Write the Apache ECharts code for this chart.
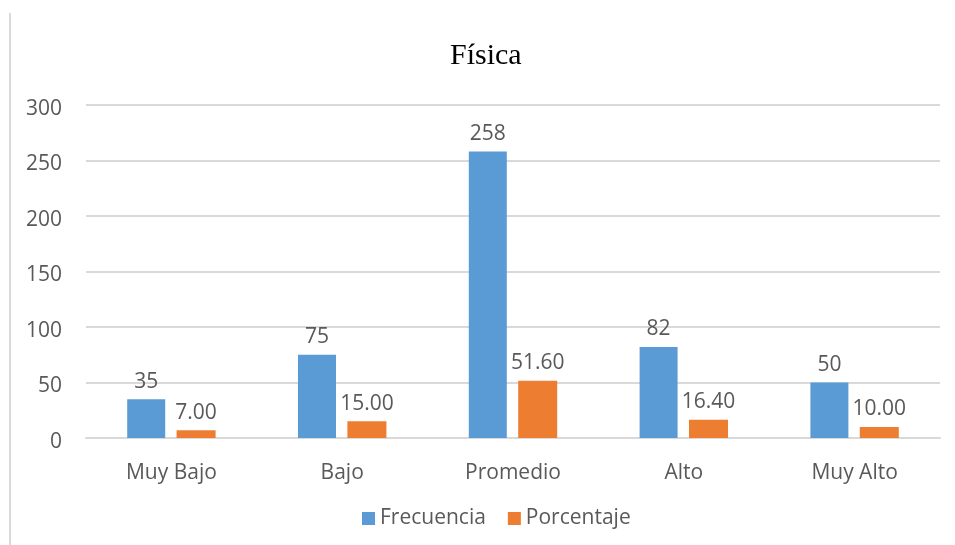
<!DOCTYPE html>
<html>
<head>
    <meta charset="utf-8">
    <title>Física</title>
    <script src="https://cdn.jsdelivr.net/npm/echarts@6/dist/echarts.min.js"></script>
    <style>
        html, body { margin: 0; padding: 0; background: #fff; }
        #chart { width: 955px; height: 545px; }
    </style>
</head>
<body>
    <div id="chart"></div>

    <script>
    const categories = ['Muy Bajo', 'Bajo', 'Promedio', 'Alto', 'Muy Alto'];
    const frecuencia = [35, 75, 258, 82, 50];
    const porcentaje = [7.00, 15.00, 51.60, 16.40, 10.00];
    const yTicks = { min: 0, max: 300, interval: 50 };

    const textColor = '#595959';
    const font = 'Open Sans';

    const chart = echarts.init(document.getElementById('chart'));

    chart.setOption({
        animation: false,
        title: {
            text: 'Física',
            left: 445,
            top: 36,
            textStyle: { fontFamily: 'Liberation Serif', fontSize: 30, fontWeight: 'normal', color: '#000' }
        },
        graphic: [{
            type: 'line',
            shape: { x1: 10, y1: 13, x2: 10, y2: 545 },
            style: { stroke: '#d9d9d9', lineWidth: 2 }
        }],
        legend: {
            bottom: 11,
            left: 357,
            itemWidth: 13,
            itemHeight: 13,
            itemGap: 22,
            icon: 'rect',
            textStyle: { fontFamily: font, fontSize: 21, color: textColor }
        },
        grid: { left: 86, right: 15, top: 105, bottom: 107 },
        xAxis: {
            type: 'category',
            data: categories,
            axisLine: { lineStyle: { color: '#d9d9d9', width: 2 } },
            axisTick: { show: false },
            axisLabel: { fontFamily: font, fontSize: 21, color: textColor, margin: 25 }
        },
        yAxis: {
            type: 'value',
            min: yTicks.min,
            max: yTicks.max,
            interval: yTicks.interval,
            axisLine: { show: false },
            axisTick: { show: false },
            splitLine: { lineStyle: { color: '#d9d9d9', width: 2 } },
            axisLabel: {
                fontFamily: font, fontSize: 21, color: textColor, margin: 24,
                verticalAlign: 'top', lineHeight: 8
            }
        },
        series: [{
            name: 'Frecuencia',
            type: 'bar',
            data: frecuencia,
            barWidth: 38,
            barGap: '30%',
            itemStyle: { color: '#5b9bd5' },
            label: { show: true, position: 'top', distance: 7, fontFamily: font, fontSize: 21, color: textColor }
        }, {
            name: 'Porcentaje',
            type: 'bar',
            data: porcentaje,
            barWidth: 39,
            itemStyle: { color: '#ed7d31' },
            label: {
                show: true, position: 'top', distance: 7, fontFamily: font, fontSize: 21, color: textColor,
                formatter: p => p.value.toFixed(2)
            }
        }]
    });
    </script>
</body>
</html>
